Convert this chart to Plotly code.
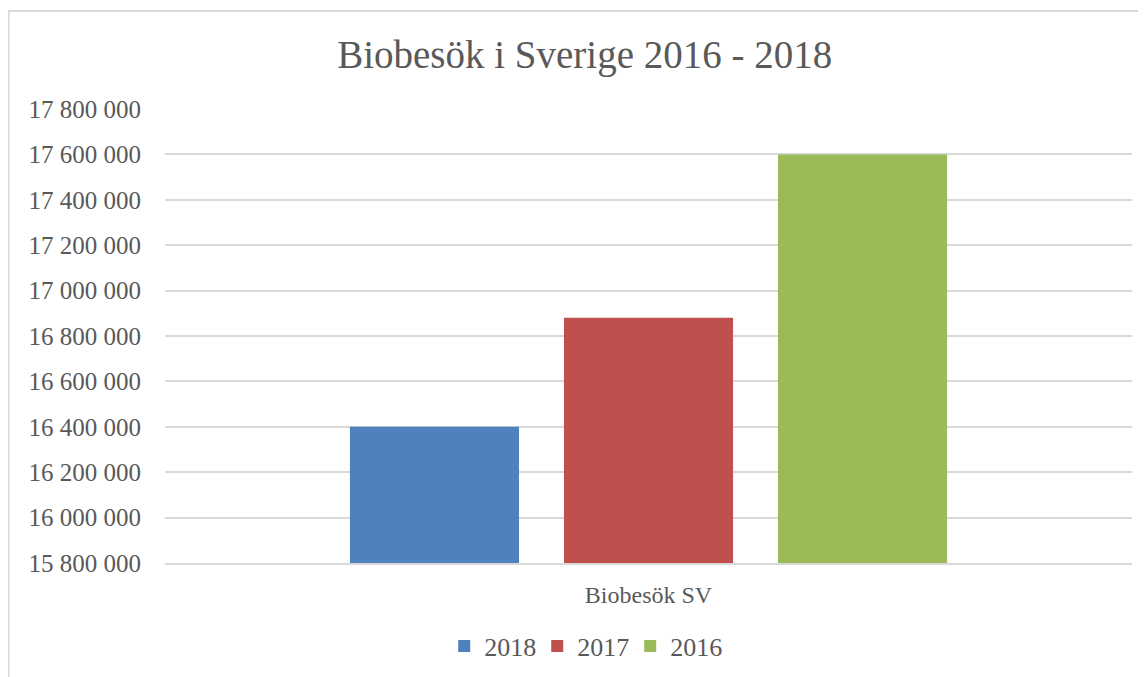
import plotly.graph_objects as go

# data
category = ["Biobesök SV"]
years = ["2018", "2017", "2016"]
visits = [16400000, 16880000, 17600000]
colors = ["#4F81BD", "#C0504D", "#9BBB59"]

y_ticks = list(range(15800000, 17800001, 200000))

text_col = "#595959"
grid_col = "#D9D9D9"
font_family = "Liberation Serif"

fig = go.Figure()
for yr, val, col in zip(years, visits, colors):
    fig.add_trace(go.Bar(x=category, y=[val], name=yr, marker_color=col,
                         marker_line_width=0))

# page body has an 8px margin, so margins are shifted by that
fig.update_layout(
    width=1146, height=677,
    margin=dict(l=157, r=22, t=101, b=122),
    paper_bgcolor="white", plot_bgcolor="white",
    separators=". ",
    font=dict(family=font_family, color=text_col),
    title=dict(text="Biobesök i Sverige 2016 - 2018", x=0.434, xref="paper",
               xanchor="center", y=0.932, yanchor="middle",
               font=dict(size=39, color=text_col, family=font_family)),
    barmode="group",
    bargap=0.336,
    bargroupgap=0.21,
    showlegend=True,
    legend=dict(orientation="h", x=0.433, xanchor="center", y=-0.183,
                yanchor="middle", font=dict(size=26, color=text_col),
                itemwidth=30, entrywidth=48, traceorder="normal"),
)

fig.update_yaxes(range=[15800000, 17800000], tickvals=y_ticks, tickformat=",d",
                 showgrid=True, gridcolor=grid_col, gridwidth=2,
                 zeroline=False, showline=False,
                 tickfont=dict(size=25, color=text_col), ticklabelstandoff=23)
fig.update_xaxes(showline=True, linecolor=grid_col, linewidth=2,
                 tickfont=dict(size=24, color=text_col), ticklabelstandoff=9)

# thin grey chart border (left/top visible in the reference)
fig.add_shape(type="rect", xref="paper", yref="paper",
              x0=-0.1618, x1=1.05, y0=-0.3, y1=1.2159,
              line=dict(color=grid_col, width=2), layer="below")

fig.write_html("out.html")
